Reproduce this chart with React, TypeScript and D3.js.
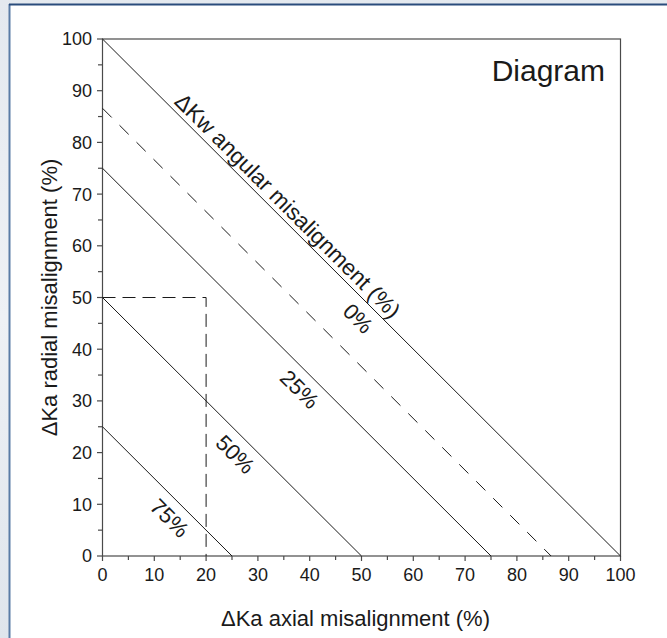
import React from "react";
import * as d3 from "d3";

const W = 667;
const H = 638;

// Data
const xTicks = [0, 10, 20, 30, 40, 50, 60, 70, 80, 90, 100];
const yTicks = [0, 10, 20, 30, 40, 50, 60, 70, 80, 90, 100];
const minorTicks = [5, 15, 25, 35, 45, 55, 65, 75, 85, 95];
// Iso-lines of angular misalignment: intercept on both axes
const lineNames = ["0%", "25%", "50%", "75%"];
const lineIntercepts = [100, 75, 50, 25];
const labelAtX = [51.7, 40.4, 28, 15.3];
const dashedIntercept = 86.6;
const examplePath = [
  [0, 50],
  [20, 50],
  [20, 0],
];
const angularTitle = "ΔKw angular misalignment (%)";
const angularTitleAtX = 13;
const xTitle = "ΔKa axial misalignment (%)";
const yTitle = "ΔKa radial misalignment (%)";
const chartTitle = "Diagram";

const FONT = "'Liberation Sans', Arial, Helvetica, sans-serif";

export default function App() {
  const x = d3.scaleLinear().domain([0, 100]).range([102.5, 620.5]);
  const y = d3.scaleLinear().domain([0, 100]).range([556, 39]);
  const line = d3
    .line<number[]>()
    .x((d) => x(d[0]))
    .y((d) => y(d[1]));
  const angle =
    (Math.atan2(y(0) - y(100), x(100) - x(0)) * 180) / Math.PI;
  const diagLabel = (intercept: number, atX: number) => {
    return [x(atX), y(intercept - atX)];
  };
  const ink = "#1a1a1a";
  const axisColor = "#4a4a4a";

  const [tx, ty] = diagLabel(100, angularTitleAtX);

  return (
    <svg
      width={W}
      height={H}
      style={{ position: "absolute", left: 0, top: 0, display: "block" }}
      fontFamily={FONT}
    >
      <defs>
        <linearGradient id="bgGrad" x1="0" y1="0" x2="0" y2="1">
          <stop offset="0" stopColor="#e4e9ef" />
          <stop offset="0.5" stopColor="#eef1f5" />
          <stop offset="1" stopColor="#dfe5ec" />
        </linearGradient>
      </defs>
      <rect x={0} y={0} width={W} height={H} fill="url(#bgGrad)" />
      <rect x={10} y={5} width={W - 10} height={H - 5} fill="#ffffff" />
      <line x1={9.5} y1={4} x2={9.5} y2={H} stroke="#5a7ca6" strokeWidth={2} />
      <line x1={9} y1={4.5} x2={W} y2={4.5} stroke="#2a4c7c" strokeWidth={2} />

      {/* plot frame */}
      <rect
        x={x(0)}
        y={y(100)}
        width={x(100) - x(0)}
        height={y(0) - y(100)}
        fill="none"
        stroke={axisColor}
        strokeWidth={1.2}
      />

      {/* y ticks */}
      {yTicks.map((t) => (
        <g key={"yt" + t}>
          <line x1={x(0) - 5.5} x2={x(0)} y1={y(t)} y2={y(t)} stroke={axisColor} strokeWidth={1.2} />
          <text
            x={92}
            y={y(t)}
            dy="0.36em"
            textAnchor="end"
            fontSize={18}
            fill={ink}
          >
            {t}
          </text>
        </g>
      ))}
      {minorTicks.map((t) => (
        <line key={"ym" + t} x1={x(0) - 4.5} x2={x(0)} y1={y(t)} y2={y(t)} stroke={axisColor} strokeWidth={1.2} />
      ))}
      {/* x ticks */}
      {xTicks.map((t) => (
        <g key={"xt" + t}>
          <line x1={x(t)} x2={x(t)} y1={y(0)} y2={y(0) + 5} stroke={axisColor} strokeWidth={1.2} />
          <text
            x={x(t)}
            y={568}
            dy="0.72em"
            textAnchor="middle"
            fontSize={18}
            fill={ink}
          >
            {t}
          </text>
        </g>
      ))}
      {minorTicks.map((t) => (
        <line key={"xm" + t} x1={x(t)} x2={x(t)} y1={y(0)} y2={y(0) + 4} stroke={axisColor} strokeWidth={1.2} />
      ))}

      {/* iso lines */}
      {lineIntercepts.map((c, i) => (
        <path
          key={"iso" + i}
          d={line([
            [0, c],
            [c, 0],
          ]) as string}
          fill="none"
          stroke={ink}
          strokeWidth={1}
        />
      ))}
      <path
        d={line([
          [0, dashedIntercept],
          [dashedIntercept, 0],
        ]) as string}
        fill="none"
        stroke={ink}
        strokeWidth={1}
        strokeDasharray="13 11"
      />
      <path
        d={line(examplePath) as string}
        fill="none"
        stroke={ink}
        strokeWidth={1}
        strokeDasharray="13 7"
      />

      {/* iso labels */}
      {lineNames.map((n, i) => {
        const [lx, ly] = diagLabel(lineIntercepts[i], labelAtX[i]);
        return (
          <text
            key={"lab" + i}
            transform={`translate(${lx},${ly}) rotate(${angle})`}
            x={0}
            y={17}
            dy="0.36em"
            textAnchor="middle"
            fontSize={22}
            fill={ink}
          >
            {n}
          </text>
        );
      })}
      <text
        transform={`translate(${tx},${ty}) rotate(${angle})`}
        x={0}
        y={-5}
        fontSize={22.5}
        fill={ink}
      >
        {angularTitle}
      </text>

      {/* titles */}
      <text x={605} y={81} textAnchor="end" fontSize={30} fill={ink}>
        {chartTitle}
      </text>
      <text
        x={(x(0) + x(100)) / 2 - 6}
        y={626}
        textAnchor="middle"
        fontSize={22}
        fill={ink}
      >
        {xTitle}
      </text>
      <text
        transform={`translate(57,${(y(0) + y(100)) / 2}) rotate(-90)`}
        textAnchor="middle"
        fontSize={22}
        fill={ink}
      >
        {yTitle}
      </text>
    </svg>
  );
}
